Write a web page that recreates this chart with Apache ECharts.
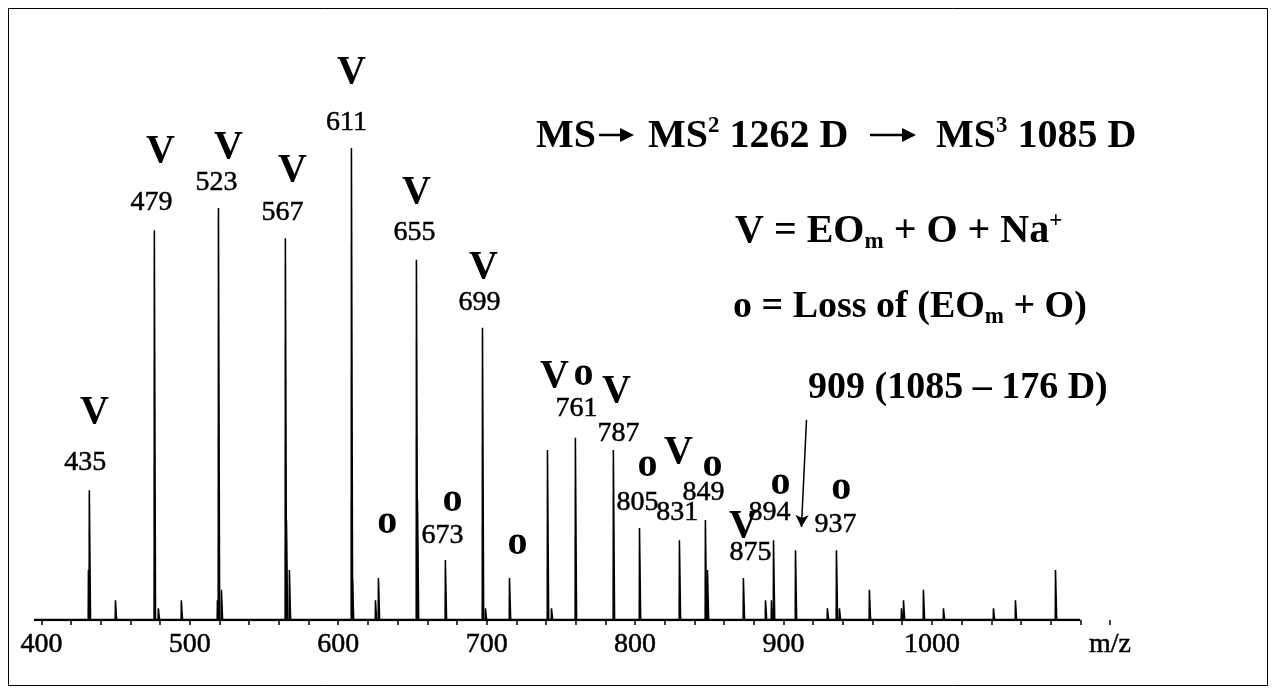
<!DOCTYPE html>
<html><head><meta charset="utf-8">
<script src="https://cdn.jsdelivr.net/npm/echarts@6/dist/echarts.min.js"></script>
<style>html,body{margin:0;padding:0;background:#fff}#c{width:1276px;height:694px}</style>
</head><body><div id="c"></div>
<script>
// peaks: m/z and relative intensity (611 = 100)
const peakMz  = [431.7,432.3,449.9,476.1,478.8,494.3,518.6,519.3,521.3,564.4,565.1,567.1,608.9,609.6,625.1,627.1,652.7,653.4,672.2,697.2,699.2,715.4,741.0,743.7,759.8,785.4,803.0,829.9,847.4,848.8,873.0,887.9,891.9,893.3,908.1,929.6,935.7,937.7,957.9,979.5,980.9,994.3,1007.8,1041.5,1056.3,1083.3];
const peakInt = [10.6,27.5,4.2,82.6,2.5,4.2,4.2,87.3,6.4,80.9,21.2,10.6,100,8.9,4.2,8.9,76.3,25.4,12.7,61.9,2.5,8.9,36.0,2.5,38.6,36.0,19.5,16.9,21.2,10.6,8.9,4.2,4.2,16.9,14.8,2.5,14.8,2.5,6.4,2.5,4.2,6.4,2.5,2.5,4.2,10.6];

// V / o tags
const tagText = ['V','V','V','V','V','V','V','o','o','o','V','o','V','o','V','o','V','o','o'];
const tagMz   = [435.7,480.2,526.0,569.1,608.9,652.7,697.8,633.1,676.9,720.7,745.7,765.2,787.4,808.3,829.2,852.1,873.0,898.0,939.0];
const tagInt  = [43.9,99.2,100.0,95.3,115.9,90.5,74.6,20.6,25.2,16.1,51.5,51.9,48.3,32.6,35.4,32.6,19.7,28.8,27.8];

// m/z number labels
const numText = ['435','479','523','567','611','655','699','673','761','787','805','831','849','875','894','937'];
const numMz   = [429.6,474.1,517.9,562.4,605.5,651.3,695.1,670.2,760.5,788.8,801.6,828.5,846.1,877.7,890.5,935.0];
const numInt  = [33.3,88.4,92.6,86.2,105.3,82.0,67.2,17.8,44.7,39.4,24.8,22.7,26.9,14.2,22.7,20.3];

const tickValues = [400,420,440,460,480,500,520,540,560,580,600,620,640,660,680,700,720,740,760,780,800,820,840,860,880,900,920,940,960,980,1000,1020,1040,1060,1080,1100,1120];
const labelValues = [400,500,600,700,800,900,1000,1120];
const axisLineEnds = [395, 1100];
const arrowFrom = [915.5, 42.4];
const arrowTo = [912.1, 19.7];

const chart = echarts.init(document.getElementById('c'));
const SERIF = 'Liberation Serif';
function rich(size) {
  return {
    n: {fontFamily: SERIF, fontWeight: 'bold', fontSize: size, lineHeight: 44, verticalAlign: 'middle', fill: '#000'},
    sub: {fontFamily: SERIF, fontWeight: 'bold', fontSize: 23, lineHeight: 10, verticalAlign: 'bottom', fill: '#000'},
    sup: {fontFamily: SERIF, fontWeight: 'bold', fontSize: 23, lineHeight: 28, verticalAlign: 'top', fill: '#000'}
  };
}
function txt(x, y, t, size) {
  return {type: 'text', x: x, y: y, silent: true,
    style: {text: t, rich: rich(size), font: 'bold ' + size + 'px "Liberation Serif"', fill: '#000', verticalAlign: 'middle', align: 'left'}};
}
function arrow(x1, x2, y) {
  return [
    {type: 'line', silent: true, shape: {x1: x1, y1: y, x2: x2 - 12, y2: y}, style: {stroke: '#000', lineWidth: 2.5}},
    {type: 'polygon', silent: true, shape: {points: [[x2 - 14, y - 7], [x2, y], [x2 - 14, y + 7]]}, style: {fill: '#000'}}
  ];
}
const numLabel = {show: true, position: 'inside', formatter: p => p.data[2], color: '#000', opacity: 1,
  fontFamily: SERIF, fontSize: 28, textBorderColor: '#000', textBorderWidth: 0.5};

chart.setOption({
  animation: false,
  backgroundColor: '#fff',
  grid: {left: 34, right: 166, top: 6.4, bottom: 74},
  xAxis: {
    type: 'value', min: 395, max: 1120,
    axisLine: {show: false},
    splitLine: {show: false},
    axisTick: {show: true, customValues: tickValues, length: 5, lineStyle: {color: '#000', width: 1.5}},
    axisLabel: {show: true, customValues: labelValues, margin: 11, color: '#000',
      fontFamily: SERIF, fontSize: 28, textBorderColor: '#000', textBorderWidth: 0.5,
      formatter: v => (v === 1120 ? 'm/z' : String(v))}
  },
  yAxis: {type: 'value', min: 0, max: 130, show: false},
  series: [
    {
      type: 'line', data: axisLineEnds.map(v => [v, 0]), symbol: 'none', silent: true,
      lineStyle: {color: '#000', width: 2.5}, z: 3,
      markLine: {
        silent: true, symbol: ['none', 'arrow'], symbolSize: [10, 12],
        label: {show: false},
        lineStyle: {color: '#000', width: 1.5, type: 'solid'},
        data: [[{coord: arrowFrom}, {coord: arrowTo}]]
      }
    },
    {
      type: 'custom', silent: true, z: 2,
      data: peakMz.map((m, i) => [m, peakInt[i]]),
      renderItem: function (params, api) {
        const m = api.value(0), h = api.value(1);
        const pts = [api.coord([m - 0.7, 0]), api.coord([m - 0.55, h]), api.coord([m + 0.5, h]), api.coord([m + 1.3, 0])];
        return {type: 'polygon', shape: {points: pts}, style: {fill: '#000'}};
      }
    },
    {
      type: 'scatter', silent: true, symbolSize: 1, itemStyle: {color: 'transparent', opacity: 1},
      data: tagMz.map((m, i) => [m, tagInt[i], tagText[i]]),
      label: {show: true, position: 'inside', formatter: p => p.data[2], color: '#000', opacity: 1,
        fontFamily: SERIF, fontWeight: 'bold', fontSize: 40}
    },
    {
      type: 'scatter', silent: true, symbolSize: 1, itemStyle: {color: 'transparent', opacity: 1},
      data: numMz.map((m, i) => [m, numInt[i], numText[i]]),
      label: numLabel
    }
  ],
  graphic: [
    {type: 'rect', shape: {x: 8.5, y: 8.5, width: 1259, height: 677}, style: {fill: 'none', stroke: '#000', lineWidth: 1}, silent: true},
    txt(536, 137, '{n|MS}', 40),
    ...arrow(599, 634, 135),
    txt(648, 137, '{n|MS}{sup|2}{n| 1262 D}', 40),
    ...arrow(870, 916, 135),
    txt(936, 137, '{n|MS}{sup|3}{n| 1085 D}', 40),
    txt(735, 232, '{n|V = EO}{sub|m}{n| + O + Na}{sup|+}', 40),
    txt(733, 307, '{n|o = Loss of (EO}{sub|m}{n| + O)}', 38),
    txt(808, 388, '{n|909 (1085 – 176 D)}', 38)
  ]
});
</script></body></html>
